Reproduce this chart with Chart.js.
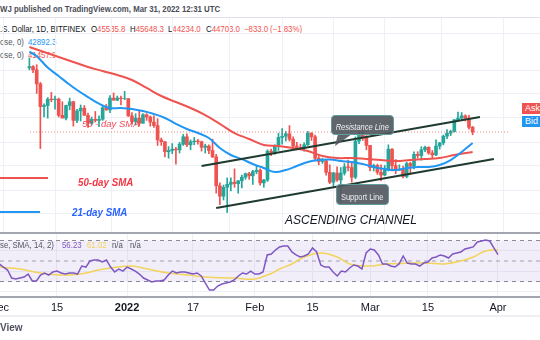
<!DOCTYPE html>
<html>
<head>
<meta charset="utf-8">
<script src="https://cdn.jsdelivr.net/npm/chart.js@4.4.0/dist/chart.umd.min.js"></script>
<style>
  body { margin:0; width:540px; height:340px; overflow:hidden; background:#fff; position:relative;
         font-family:"Liberation Sans", Arial, sans-serif; }
  .abs { position:absolute; white-space:nowrap; }
  .t { position:absolute; white-space:nowrap; font-size:9px; line-height:11px; color:#131722;
       transform:scaleX(0.87); transform-origin:0 50%; }
  .red { color:#ef5350; }
  .blue { color:#2196f3; }
  #pricePane { position:absolute; left:0; top:18px; width:540px; height:215px; }
  #rsiPane { position:absolute; left:0; top:233px; width:540px; height:84px; }
  .rule { position:absolute; left:0; width:540px; }
  .tag { position:absolute; border-radius:4px; background:rgba(84,88,96,0.92); border:1px solid #5f9c9c;
         color:#eef0f3; text-align:center; box-sizing:border-box; }
  .tag span { display:inline-block; font-size:8.5px; transform:scaleX(0.88); }
</style>
</head>
<body>

<div class="rule" style="top:17px;height:1px;background:#e0e3eb"></div>

<!-- chart header -->
<div class="t" style="left:0;top:4px;font-weight:bold;color:#4a4d57">WJ published on TradingView.com, Mar 31, 2022 12:31 UTC</div>
<div class="t" style="left:0;top:23.5px">.S. Dollar, 1D, BITFINEX</div>
<div class="t" style="left:91px;top:23.5px">O<span class="red">45535.8</span></div>
<div class="t" style="left:130px;top:23.5px">H<span class="red">45648.3</span></div>
<div class="t" style="left:168px;top:23.5px">L<span class="red">44234.0</span></div>
<div class="t" style="left:206px;top:23.5px">C<span class="red">44703.0</span></div>
<div class="t red" style="left:244px;top:23.5px">−833.0</div>
<div class="t red" style="left:270px;top:23.5px">(−1.83%)</div>
<div class="t" style="left:0;top:36.5px;color:#50535e">ose, 0)</div>
<div class="t blue" style="left:28px;top:36.5px">42892.3</div>
<div class="t" style="left:0;top:49.5px;color:#50535e">ose, 0)</div>
<div class="t red" style="left:28px;top:49.5px">41457.9</div>

<div id="pricePane"><canvas id="priceChart"></canvas></div>
<div id="rsiPane"><canvas id="rsiChart"></canvas></div>

<div class="rule" style="top:232px;height:2px;background:#a3a6af"></div>
<div class="rule" style="top:296px;height:2px;background:#a3a6af"></div>
<div class="rule" style="top:315px;height:2px;background:#eef0f4"></div>

<!-- notes drawn over the price pane -->
<div class="abs" style="left:82px;top:117.5px;font-size:9.5px;line-height:11px;font-style:italic;color:rgba(242,54,69,0.9)">50 - day SMA</div>
<div class="rule" style="top:177px;width:48px;height:2px;background:#ef5350"></div>
<div class="abs" style="left:78px;top:175.5px;font-size:11.5px;line-height:13px;font-weight:bold;font-style:italic;color:#f23645;transform:scaleX(0.85);transform-origin:0 50%">50-day SMA</div>
<div class="rule" style="top:211px;width:40px;height:2px;background:#2196f3"></div>
<div class="abs" style="left:72px;top:205.5px;font-size:11.5px;line-height:13px;font-weight:bold;font-style:italic;color:#2962ff;transform:scaleX(0.85);transform-origin:0 50%">21-day SMA</div>
<div class="abs" style="left:285px;top:213px;font-size:12px;line-height:14px;font-style:italic;color:#131722">ASCENDING CHANNEL</div>

<svg class="abs" style="left:0;top:0" width="540" height="340">
  <polygon points="338,134 352,134 335,146" fill="rgba(84,88,96,0.92)"/>
</svg>
<div class="tag" style="left:331px;top:115px;width:63px;height:20px;line-height:18px;font-style:italic"><span>Resistance Line</span></div>
<div class="tag" style="left:336px;top:184px;width:53px;height:21px;line-height:19px"><span>Support Line</span></div>

<div class="abs" style="left:522px;top:103px;width:30px;height:11px;background:#ef5350;color:#fff;font-size:9px;line-height:11px;padding-left:3px">Ask</div>
<div class="abs" style="left:522px;top:116px;width:30px;height:11px;background:#2196f3;color:#fff;font-size:9px;line-height:11px;padding-left:3px">Bid</div>

<!-- RSI legend -->
<div class="t" style="left:0;top:239.5px;color:#50535e">se, SMA, 14, 2)</div>
<div class="t" style="left:62px;top:239.5px;color:#7e57c2">56.23</div>
<div class="t" style="left:87px;top:239.5px;color:#f2d45c">61.02</div>
<div class="t" style="left:112px;top:239.5px;color:#50535e">n/a</div>
<div class="t" style="left:130px;top:239.5px;color:#50535e">n/a</div>
<div class="abs" style="left:0;top:322px;font-size:10px;font-weight:bold;color:#50535e">View</div>

<script>
// Daily BTC/USD candles, day 0 = 1 Dec 2021
const opens = [56950,57200,56500,53600,49200,49400,50600,50500,50600,47600,47100,49400,50100,46700,48400,48900,47600,46200,46900,46700,
  46900,49000,48600,50800,50400,50800,50700,50700,47500,46500,47100,46200,47700,47300,46400,45800,43400,43100,41500,41700,
  41900,41800,42700,43900,42600,43100,43200,43100,42200,42400,41700,40700,36500,35100,36300,36700,37000,36800,37200,37700,
  38200,37900,38500,38700,36900,37300,41600,41400,42400,43800,44000,44400,43500,42400,42200,42100,42600,44500,43900,40500,
  40000,40100,38400,37000,38300,37300,38300,39200,39100,37700,43200,44400,43900,42500,39100,39400,38400,38000,38700,41900,
  39400,38700,38800,37800,39700,39300,41100,40900,41800,42200,41300,41000,42400,42900,44000,44500,44800,46800,47100,47500,
  47100,45535.8];
const highs = [59100,57400,57600,53900,49700,50900,51900,51200,50800,50100,49500,50800,50200,48700,49500,49400,48000,47300,48300,47500,
  49300,49600,51300,51800,51200,51200,52100,50700,48100,47900,48500,47900,47900,47500,47500,47000,43700,43100,42300,42800,
  42200,43000,44300,44400,43400,43800,43500,43200,42700,42600,43500,41100,36900,36600,37600,37600,38900,37200,38000,38300,
  38400,38700,39300,38900,37400,41800,41900,42600,44500,45300,44800,45800,43900,43000,42700,42900,44800,44600,44200,40900,
  40500,40200,39500,38400,39200,39100,39700,40200,39800,43900,44900,45400,44100,42500,39600,39600,39500,39400,42600,42000,
  40300,39500,39300,39900,39900,41500,41500,42300,42400,42300,41700,43400,43000,44200,45100,45000,46900,48200,48100,47700,
  47600,45648.3];
const lows = [56500,55900,51700,42000,47300,47100,50100,48700,47300,47200,46800,48600,45700,46300,46600,47600,45500,45900,46400,45600,
  46700,48500,48100,50400,50300,49500,50500,47400,46100,45900,45700,46200,46700,45700,45500,42500,42500,40700,40500,41200,
  39600,41300,42500,42300,41800,42600,42700,41600,41300,41200,40600,35500,34000,34600,33000,35800,36300,35500,36200,37400,
  37400,36700,38200,36600,36300,37100,40900,41100,41700,42700,43200,43200,42000,41800,41900,41600,42500,43300,40100,39500,
  39700,38000,36800,36400,37100,34300,38000,38600,37000,37500,42800,43300,41800,38600,38600,38100,37200,37900,38600,38600,
  38200,38700,37600,37600,38100,38900,40500,40200,41500,41100,40500,40900,41900,42600,43600,44100,44700,46700,46900,46600,
  45200,44234.0];
const closes = [57200,56500,53600,49200,49400,50600,50500,50600,47600,47100,49400,50100,46700,48400,48900,47600,46200,46900,46700,46900,
  49000,48600,50800,50400,50800,50700,50700,47500,46500,47100,46200,47700,47300,46400,45800,43400,43100,41500,41700,41900,
  41800,42700,43900,42600,43100,43200,43100,42200,42400,41700,40700,36500,35100,36300,36700,37000,36800,37200,37700,38200,
  37900,38500,38700,36900,37300,41600,41400,42400,43800,44000,44400,43500,42400,42200,42100,42600,44500,43900,40500,40000,
  40100,38400,37000,38300,37300,38300,39200,39100,37700,43200,44400,43900,42500,39100,39400,38400,38000,38700,41900,39400,
  38700,38800,37800,39700,39300,41100,40900,41800,42200,41300,41000,42400,42900,44000,44500,44800,46800,47100,47500,47100,
  45500,44703.0];

// Moving averages as plotted (day, price)
const sma21Days = [0,2,5,8,10,13,16,19,22,25,28,31,34,37,40,43,46,49,52,55,58,61,64,67,70,73,76,79,82,85,88,91,94,97,100,103,106,109,112,115,118,121];
const sma21Values = [60500,59500,57000,55200,54000,52370,51000,49760,48940,48940,48750,48380,47840,47130,46100,45210,44540,43700,42090,40990,
  40370,39620,39030,38440,38740,39330,39920,40220,40300,40080,39920,39620,39180,38880,38740,39030,39180,39180,39470,40220,41460,42892.3];
const sma50Days = [0,4,8,12,16,20,24,28,32,36,40,44,48,52,56,60,64,68,72,76,80,84,88,92,96,100,104,108,112,116,121];
const sma50Values = [61590,60440,59310,58200,57120,56260,55420,54380,52770,51200,50050,48940,47660,46100,44530,43540,42570,42410,42090,41610,
  40840,40530,40530,40370,40220,40080,40220,40370,40530,40990,41457.9];

// Channel drawn on the chart (day, price)
const resistanceLine = [{x:47, y:39330}, {x:123, y:47300}];
const supportLine = [{x:51, y:33570}, {x:126.8, y:40370}];

// RSI (14) per day and its moving average
const rsiValues = [47.1,44.1,41.2,33.4,32.4,33.4,34.4,37.3,30.5,30.5,36.3,38.3,36.3,39.3,40.2,38.3,37.3,38.3,38.3,37.3,
  45.1,44.1,50,51,51,49,51,44.1,39.3,42.2,40.2,44.1,42.2,40.2,37.3,33.4,31.5,29.5,30.5,30.5,
  31.5,36.3,40.2,38.3,39.3,39.3,38.3,37.3,38.3,35.4,28.5,21.7,21.7,25.6,27.6,28.5,29.5,31.5,35.4,38.3,
  37.3,40.2,37.3,37.3,39.3,55.9,56.8,60.7,63.7,64.6,64.6,58.8,55.9,53.9,54.9,56.8,62.7,58.8,46.1,44.1,
  44.1,39.3,35.4,40.2,39.3,43.2,46.1,45.1,42.2,57.8,61.7,60.7,55.9,47.1,47.1,45.1,44.1,47.1,54.9,48,
  47.1,47.1,45.1,48,49,52.9,53.9,55.9,54.9,52.9,56.8,57.8,58.8,61.7,62.7,63.7,68.5,69.5,70.5,69.5,
  62.7,56.23];
const rsiMaDays = [0,5,10,16,21,24,29,32,36,41,46,50,57,62,65,66,68,71,74,78,82,85,90,94,100,104,108,112,115,118,121];
const rsiMaValues = [44.1,42.2,38.3,36.3,38.3,41.2,44.1,45.1,42.2,38.3,36.3,34.4,33.4,32.4,36.3,37.8,42.2,47.1,53.9,57.8,
  53.9,47.1,45.1,47.1,48,48,47.1,50,53.9,59.8,61.02];
const rsiBands = [70, 50, 30];

// Time axis and grid levels
const tickDays = [0, 14, 31, 47, 62, 76, 90, 104, 121];
const tickLabels = ['Dec', '15', '2022', '17', 'Feb', '15', 'Mar', '15', 'Apr'];
const priceGridLevels = [64700, 56470, 51590, 47130, 43050, 39330, 35920, 32820];
const rsiGridLevels = [20, 40, 60];

const UP = '#26a69a', DOWN = '#ef5350', GRID = '#edf1f7';
const X_MIN = 0.17, X_MAX = 131.2;

const candleColors = opens.map((o, i) => closes[i] >= o ? UP : DOWN);
const bodies = opens.map((o, i) => ({x: i, y: [o, closes[i]]}));
const wicks = lows.map((l, i) => ({x: i, y: [l, highs[i]]}));
const pairs = (days, vals) => days.map((d, i) => ({x: d, y: vals[i]}));
const lastClose = closes[closes.length - 1];

function timeAxis(showLabels) {
    return {
        type: 'linear', min: X_MIN, max: X_MAX,
        afterBuildTicks: s => { s.ticks = tickDays.map(d => ({value: d})); },
        afterFit: s => { s.paddingLeft = 0; s.paddingRight = 0; s.height = showLabels ? 20 : 0; },
        grid: {color: GRID, drawTicks: false},
        border: {display: false},
        ticks: {
            display: showLabels, autoSkip: false, maxRotation: 0, padding: 4, color: '#131722',
            font: ctx => ({family: 'Liberation Sans', size: 11, weight: ctx.tick && ctx.tick.label === '2022' ? 'bold' : 'normal'}),
            callback: v => tickLabels[tickDays.indexOf(v)]
        }
    };
}

function hiddenY(extra) {
    return Object.assign({
        afterFit: s => { s.width = 0; },
        grid: {color: GRID, drawTicks: false},
        border: {display: false},
        ticks: {display: false}
    }, extra);
}

const lineStyle = {pointRadius: 0, fill: false, tension: 0.4};

new Chart(document.getElementById('priceChart'), {
    type: 'bar',
    data: {
        datasets: [
            {type: 'line', data: resistanceLine, borderColor: '#1f3a2e', borderWidth: 2, ...lineStyle, tension: 0},
            {type: 'line', data: supportLine, borderColor: '#1f3a2e', borderWidth: 2, ...lineStyle, tension: 0},
            {type: 'line', data: pairs(sma21Days, sma21Values), borderColor: '#2196f3', borderWidth: 2, ...lineStyle},
            {type: 'line', data: pairs(sma50Days, sma50Values), borderColor: '#ef5350', borderWidth: 2, ...lineStyle},
            {type: 'line', data: [{x: X_MIN, y: lastClose}, {x: X_MAX, y: lastClose}], borderColor: 'rgba(239,83,80,0.7)',
             borderWidth: 1, borderDash: [1, 2], ...lineStyle, tension: 0},
            {data: bodies, backgroundColor: candleColors, barThickness: 3, grouped: false},
            {data: wicks, backgroundColor: candleColors, barThickness: 1, grouped: false}
        ]
    },
    options: {
        animation: false, responsive: true, maintainAspectRatio: false,
        layout: {padding: 0},
        plugins: {legend: {display: false}, tooltip: {enabled: false}},
        scales: {
            x: timeAxis(false),
            y: hiddenY({type: 'logarithmic', min: 30550, max: 68700,
                afterBuildTicks: s => { s.ticks = priceGridLevels.map(v => ({value: v})); }})
        }
    }
});

new Chart(document.getElementById('rsiChart'), {
    type: 'line',
    data: {
        datasets: [
            {data: rsiValues.map((v, i) => ({x: i, y: v})), borderColor: '#7e57c2', borderWidth: 1.5, ...lineStyle, tension: 0},
            {data: pairs(rsiMaDays, rsiMaValues), borderColor: '#f2d45c', borderWidth: 1.5, ...lineStyle},
            {data: [{x: X_MIN, y: rsiBands[0]}, {x: X_MAX, y: rsiBands[0]}], borderColor: '#8a8d96', borderWidth: 1,
             borderDash: [4, 4], pointRadius: 0, fill: '+2', backgroundColor: 'rgba(126,87,194,0.1)'},
            {data: [{x: X_MIN, y: rsiBands[1]}, {x: X_MAX, y: rsiBands[1]}], borderColor: '#a6a9b1', borderWidth: 1,
             borderDash: [4, 4], pointRadius: 0, fill: false},
            {data: [{x: X_MIN, y: rsiBands[2]}, {x: X_MAX, y: rsiBands[2]}], borderColor: '#8a8d96', borderWidth: 1,
             borderDash: [4, 4], pointRadius: 0, fill: false}
        ]
    },
    options: {
        animation: false, responsive: true, maintainAspectRatio: false,
        layout: {padding: 0},
        plugins: {legend: {display: false}, tooltip: {enabled: false}},
        scales: {
            x: timeAxis(true),
            y: hiddenY({min: 14.9, max: 77.3,
                afterBuildTicks: s => { s.ticks = rsiGridLevels.map(v => ({value: v})); }})
        }
    }
});
</script>
</body>
</html>
